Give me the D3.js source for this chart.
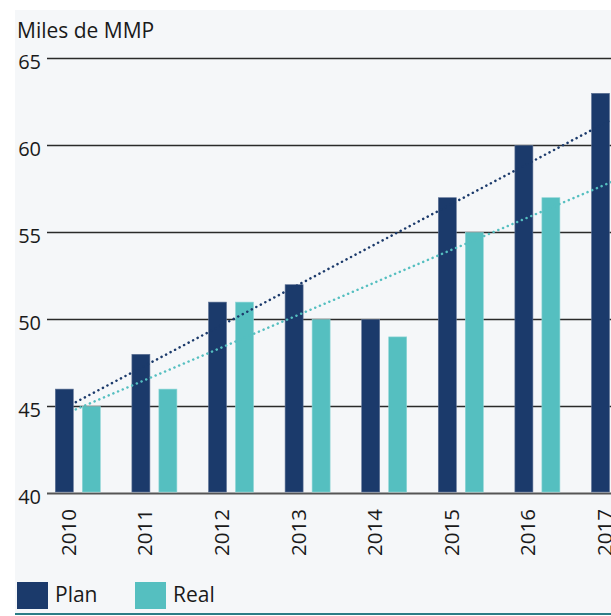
<!DOCTYPE html>
<html>

<head>
    <meta charset="utf-8">
    <script src="https://cdn.jsdelivr.net/npm/d3@7/dist/d3.min.js"></script>
    <style>
        body { margin: 0; background: #ffffff; }
        text { font-family: "Open Sans", sans-serif; fill: #1a1a1a; }
    </style>
</head>

<body>
    <div id="my_dataviz"></div>
    <script>

        // data
        var years = ["2010", "2011", "2012", "2013", "2014", "2015", "2016", "2017"];
        var plan = [46, 48, 51, 52, 50, 57, 60, 63];
        var real = [45, 46, 51, 50, 49, 55, 57, 58];
        var yTicks = [40, 45, 50, 55, 60, 65];
        var seriesNames = ["Plan", "Real"];
        var colors = ["#1b3a6b", "#55bfc0"];
        var edgeColors = ["#5f7396", "#8fd6d6"];

        var W = 611, H = 616;

        var svg = d3.select("#my_dataviz")
            .append("svg")
            .attr("width", W)
            .attr("height", H);

        // light panel behind the chart
        svg.append("rect")
            .attr("x", 15).attr("y", 10)
            .attr("width", W - 15).attr("height", 603)
            .attr("fill", "#f5f7f9");

        // bottom rule
        svg.append("rect")
            .attr("x", 15).attr("y", 613)
            .attr("width", W - 15).attr("height", 2)
            .attr("fill", "#2b7d86");

        // title
        svg.append("text")
            .attr("x", 17).attr("y", 38)
            .style("font-size", "21px")
            .text("Miles de MMP");

        // scales
        var y = d3.scaleLinear()
            .domain([40, 65])
            .range([493.5, 58.5]);

        var x = d3.scaleBand()
            .domain(years)
            .range([55.3, 55.3 + 76.6 * (years.length - 0.4125)])
            .paddingInner(0.4125)
            .paddingOuter(0);

        var xSub = d3.scaleBand()
            .domain(seriesNames)
            .range([0, x.bandwidth()])
            .paddingInner(1 / 3);

        // gridlines + y labels
        var grid = svg.append("g");
        grid.selectAll("line")
            .data(yTicks)
            .enter().append("line")
            .attr("x1", 47).attr("x2", W)
            .attr("y1", function (d) { return y(d); })
            .attr("y2", function (d) { return y(d); })
            .attr("stroke", function (d) { return d == 40 ? "#555" : "#2a2a2a"; })
            .attr("stroke-width", function (d) { return d == 40 ? 2 : 1.4; });
        grid.selectAll("text")
            .data(yTicks)
            .enter().append("text")
            .attr("x", 41)
            .attr("y", function (d) { return y(d) + 10; })
            .attr("text-anchor", "end")
            .style("font-size", "20px")
            .text(function (d) { return d; });

        // bars
        var table = years.map(function (yr, i) {
            return { year: yr, Plan: plan[i], Real: real[i] };
        });

        svg.append("g")
            .selectAll("g")
            .data(table)
            .enter().append("g")
            .attr("transform", function (d) { return "translate(" + x(d.year) + ",0)"; })
            .selectAll("rect")
            .data(function (d) { return seriesNames.map(function (k) { return { key: k, value: d[k] }; }); })
            .enter().append("rect")
            .attr("x", function (d) { return xSub(d.key); })
            .attr("width", xSub.bandwidth())
            .attr("y", function (d) { return y(d.value); })
            .attr("height", function (d) { return y(40) - y(d.value) - 1.5; })
            .attr("fill", function (d) { return colors[seriesNames.indexOf(d.key)]; })
            .attr("stroke", function (d) { return edgeColors[seriesNames.indexOf(d.key)]; })
            .attr("stroke-width", 0.6);

        // linear trend lines (least squares over the categories)
        function trend(vals) {
            var n = vals.length, mx = (n - 1) / 2, my = d3.mean(vals);
            var sxy = 0, sxx = 0;
            vals.forEach(function (v, i) { sxy += (i - mx) * (v - my); sxx += (i - mx) * (i - mx); });
            var b = sxy / sxx, a = my - b * mx;
            return [[0, a], [n - 1, a + b * (n - 1)]];
        }

        var line = d3.line()
            .x(function (d) { return x(years[d[0]]) + x.bandwidth() / 2 - 2; })
            .y(function (d) { return y(d[1]); });

        [plan, real].forEach(function (vals, i) {
            svg.append("path")
                .attr("d", line(trend(vals)))
                .attr("fill", "none")
                .attr("stroke", colors[i])
                .attr("stroke-width", 2.5)
                .attr("stroke-linecap", "round")
                .attr("stroke-dasharray", "0.1 5");
        });

        // rotated year labels
        svg.append("g")
            .selectAll("text")
            .data(years)
            .enter().append("text")
            .attr("transform", function (d) { return "translate(" + (x(d) + x.bandwidth() / 2 - 2) + ",509) rotate(-90)"; })
            .attr("text-anchor", "end")
            .style("font-size", "20.5px")
            .text(function (d) { return d; });

        // legend
        var legend = svg.append("g")
            .selectAll("g")
            .data(seriesNames)
            .enter().append("g")
            .attr("transform", function (d, i) { return "translate(" + (17 + i * 118) + ",582)"; });
        legend.append("rect")
            .attr("width", 31).attr("height", 27)
            .attr("fill", function (d, i) { return colors[i]; });
        legend.append("text")
            .attr("x", 38).attr("y", 20)
            .style("font-size", "21px")
            .text(function (d) { return d; });

    </script>
</body>

</html>
